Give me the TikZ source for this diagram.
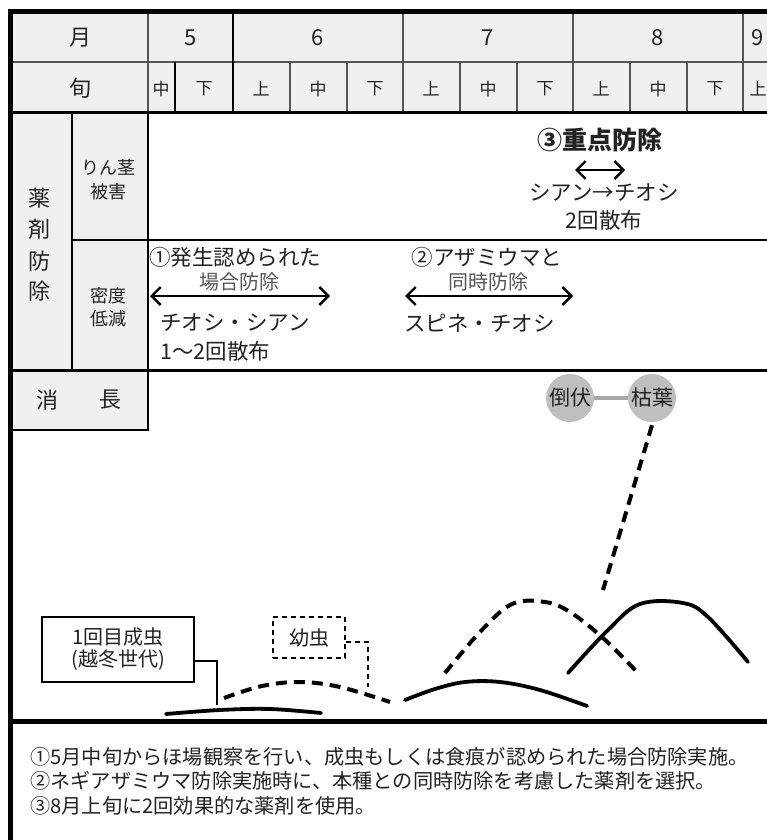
\documentclass[tikz,border=0pt]{standalone}
\usepackage{fontspec}
\setmainfont{Noto Sans CJK JP}
\usetikzlibrary{arrows.meta}
\definecolor{hdr}{HTML}{F0F0F0}
\definecolor{gridc}{HTML}{555555}
\definecolor{txt}{HTML}{222222}
\definecolor{subt}{HTML}{555555}
\definecolor{circf}{HTML}{BFBFBF}
\definecolor{connc}{HTML}{A6A6A6}
\newcommand\fsz[1]{\fontsize{#1}{#1}\selectfont}
\begin{document}
\begin{tikzpicture}[x=1pt,y=-1pt,
  thinline/.style={draw=gridc,line width=1.1pt},
  blackline/.style={draw=black,line width=1.4pt},
  heavy/.style={draw=black,line width=3pt},
  frame/.style={draw=black,line width=5pt},
  hlab/.style={font=\fsz{22},text=txt,inner sep=0pt},
  slab/.style={font=\fsz{17},text=txt,inner sep=0pt},
  llab/.style={font=\fsz{18},text=txt,inner sep=0pt},
  clab/.style={font=\fsz{21.5},text=txt,inner sep=0pt},
  glab/.style={font=\fsz{20},text=subt,inner sep=0pt},
  note/.style={font=\fsz{20.2},text=txt,inner sep=0pt,anchor=west},
  twoway/.style={draw=black,line width=2.4pt,{Straight Barb[length=9pt,width=18pt]}-{Straight Barb[length=9pt,width=18pt]}},
  curve/.style={draw=black,line width=3.8pt,line cap=round},
  dcurve/.style={draw=black,line width=4pt,dash pattern=on 11pt off 7pt},
  callout/.style={draw=black,line width=1.3pt},
  dcallout/.style={draw=black,line width=1.3pt,dash pattern=on 5pt off 4pt},
  bubble/.style={circle,fill=circf,minimum size=48pt,inner sep=0pt,font=\fsz{21},text=txt}
]
\useasboundingbox (0,0) rectangle (767,840);
\fill[white] (0,0) rectangle (767,840);
% header fills
\fill[hdr] (12,13) rectangle (767,113);
\fill[hdr] (12,113) rectangle (148,370);
\fill[hdr] (12,370) rectangle (148,430);
% header grid
\draw[thinline] (12,62) -- (767,62);
\foreach \x in {148,403,573,743} \draw[thinline] (\x,13) -- (\x,113);
\draw[blackline] (233,13) -- (233,113);
\draw[blackline] (175,62) -- (175,113);
\foreach \x in {290,347,460,517,630,687} \draw[thinline] (\x,62) -- (\x,113);
\draw[heavy] (12,113) -- (767,113);
% chemical section
\draw[blackline] (72,113) -- (72,370);
\draw[blackline] (148,113) -- (148,370);
\draw[blackline] (72,240) -- (767,240);
\draw[heavy] (12,370) -- (767,370);
% shocho box
\draw[blackline] (12,430) -- (148,430) -- (148,370);
% notes divider
\draw[frame] (12,721) -- (767,721);
% outer frame
\draw[frame] (8,12) -- (767,12);
\draw[frame] (10,10) -- (10,840);

% header texts
\node[hlab] (tm) at (80,38) {月};
\node[hlab] (tj) at (80,88) {旬};
\node[hlab] (m5) at (191,38) {5};
\node[hlab] (m6) at (318,38) {6};
\node[hlab] (m7) at (488,38) {7};
\node[hlab] (m8) at (658,38) {8};
\node[hlab] (m9) at (758,38) {9};
\node[slab] (d1) at (161,89) {中};
\node[slab] (d2) at (204,89) {下};
\node[slab] (d3) at (261,89) {上};
\node[slab] (d4) at (318,89) {中};
\node[slab] (d5) at (375,89) {下};
\node[slab] (d6) at (431,89) {上};
\node[slab] (d7) at (488,89) {中};
\node[slab] (d8) at (545,89) {下};
\node[slab] (d9) at (601,89) {上};
\node[slab] (d10) at (658,89) {中};
\node[slab] (d11) at (715,89) {下};
\node[slab] (d12) at (758,89) {上};

% left labels
\node[hlab] (v1) at (39,198) {薬};
\node[hlab] (v2) at (39,229) {剤};
\node[hlab] (v3) at (39,261) {防};
\node[hlab] (v4) at (39,291) {除};
\node[llab] (r1) at (108,167) {りん茎};
\node[llab] (r2) at (108,192) {被害};
\node[llab] (r3) at (108,296) {密度};
\node[llab] (r4) at (108,319) {低減};
\node[hlab] (s1) at (47,400) {消};
\node[hlab] (s2) at (110,400) {長};

% chemical control texts
\node[font=\fsz{25}\bfseries,text=txt,inner sep=0pt] (p3) at (600,140) {③重点防除};
\coordinate (a3l) at (575,170);
\coordinate (a3r) at (625,170);
\draw[twoway] (a3l) -- (a3r);
\node[clab] (p3a) at (604,193) {シアン→チオシ};
\node[clab] (p3b) at (604,220) {2回散布};

\node[clab,anchor=west] (p1) at (149,257) {①発生認められた};
\node[glab] (p1g) at (239,282) {場合防除};
\coordinate (a1l) at (150,296);
\coordinate (a1r) at (330,296);
\draw[twoway] (a1l) -- (a1r);
\node[clab,anchor=west] (p1a) at (160,323) {チオシ・シアン};
\node[clab,anchor=west] (p1b) at (160,351) {1〜2回散布};

\node[clab] (p2) at (487,257) {②アザミウマと};
\node[glab] (p2g) at (488,282) {同時防除};
\coordinate (a2l) at (405,296);
\coordinate (a2r) at (573,296);
\draw[twoway] (a2l) -- (a2r);
\node[clab,anchor=west] (p2a) at (404,323) {スピネ・チオシ};

% damage bubbles
\node[bubble] (tofu) at (570,398) {倒伏};
\node[bubble] (kare) at (652,398) {枯葉};
\draw[connc,line width=4pt] (tofu) -- (kare);
\coordinate (kd) at (603,590);
\draw[dcurve] (kare.south) ++(0,3) -- (kd);

% curves
\draw[curve] plot[smooth,tension=0.6] coordinates {(166,714) (220,710) (270,709) (321,713)};
\draw[dcurve] plot[smooth,tension=0.6] coordinates {(224,698) (262,686) (300,682) (340,687) (390,702)};
\draw[curve] plot[smooth,tension=0.6] coordinates {(405,700) (435,689) (465,682) (500,682) (540,690) (587,706)};
\draw[dcurve] plot[smooth,tension=0.6] coordinates {(445,673) (480,632) (512,604) (545,602) (570,612) (603,638) (638,673)};
\draw[curve] plot[smooth,tension=0.6] coordinates {(568,673) (608,630) (640,604) (683,603) (708,617) (748,662)};

% callouts
\node[callout,minimum width=152pt,minimum height=65pt,inner sep=0pt,align=center,font=\fsz{20},text=txt] (adult) at (118,649.5) {1回目成虫\\[2pt](越冬世代)};
\coordinate (ad1) at (217,661);
\coordinate (ad2) at (217,705);
\draw[callout] (adult.east |- ad1) -- (ad1) -- (ad2);
\node[dcallout,minimum width=72pt,minimum height=41pt,inner sep=0pt,font=\fsz{20},text=txt] (larva) at (309,637.5) {幼虫};
\coordinate (la1) at (368,642);
\coordinate (la2) at (368,687);
\draw[dcallout] (larva.east |- la1) -- (la1) -- (la2);

% notes
\node[note] (n1) at (30,757) {①5月中旬からほ場観察を行い、成虫もしくは食痕が認められた場合防除実施。};
\node[note] (n2) at (30,781) {②ネギアザミウマ防除実施時に、本種との同時防除を考慮した薬剤を選択。};
\node[note] (n3) at (30,806) {③8月上旬に2回効果的な薬剤を使用。};
\end{tikzpicture}
\end{document}
